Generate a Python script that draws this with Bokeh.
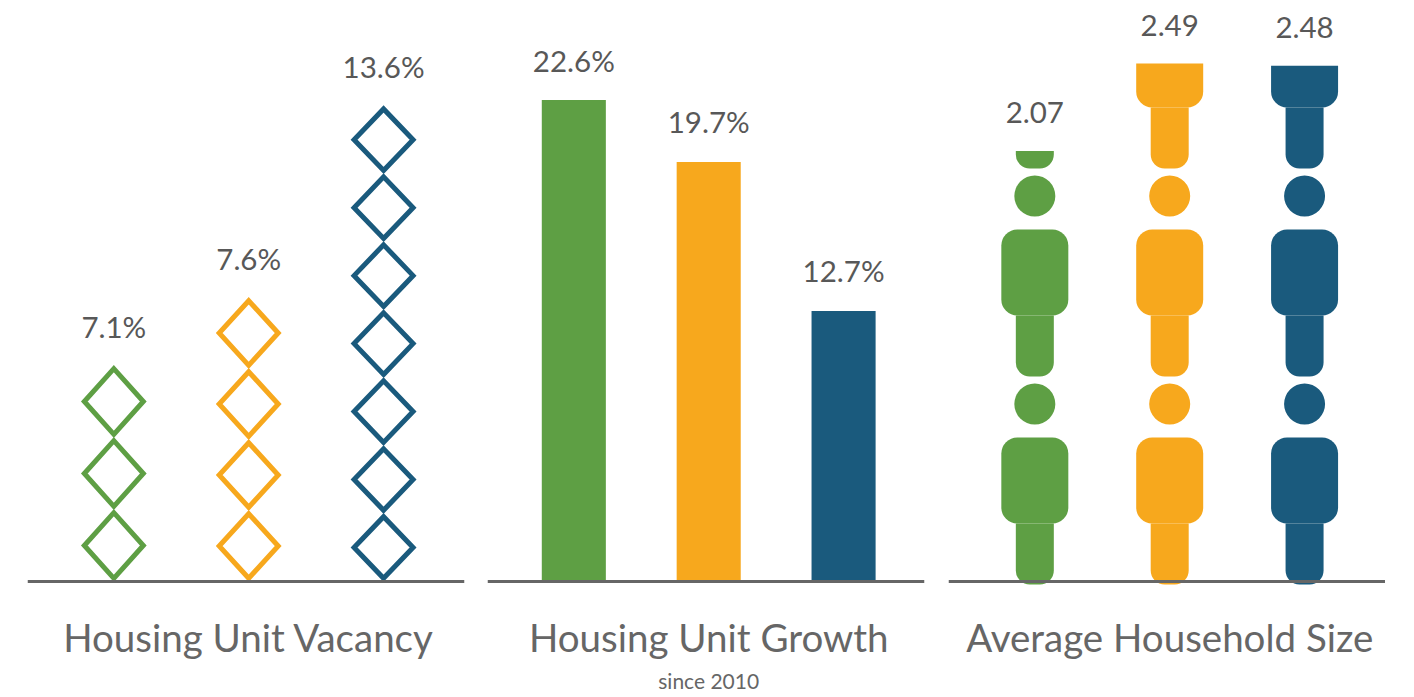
import math
from bokeh.plotting import figure
from bokeh.layouts import row
from bokeh.models import Span
from bokeh.core.properties import value
from bokeh.embed import file_html
from bokeh.resources import INLINE

# ---------------- data ----------------
series = ["Series 1", "Series 2", "Series 3"]
series_colors = ["#5E9F44", "#F7A81D", "#1A5A7D"]

panel_titles = ["Housing Unit Vacancy", "Housing Unit Growth", "Average Household Size"]
growth_subtitle = "since 2010"

vacancy_pct = [7.1, 7.6, 13.6]
vacancy_icons = [3, 4, 7]            # diamonds drawn per series
growth_pct = [22.6, 19.7, 12.7]
household_size = [2.07, 2.49, 2.48]

# ---------------- styling / layout ----------------
FONT = value("Lato")
LABEL_COLOR = "#585858"
TITLE_COLOR = "#666666"
BASE_COLOR = "#666666"
FRAME_W = 437
ABOVE_PX = 573   # pixels above baseline inside frame
BELOW_PX = 114   # pixels below baseline inside frame
FRAME_H = ABOVE_PX + BELOW_PX
TOP_PAD = 8
X_RANGE = (-0.64, 2.60)
xs = list(range(len(series)))

U1 = 72.0    # px per diamond
U2 = 21.3    # px per percent
U3 = 208.0   # px per person
diamond_scale = [1.0, 0.986, 0.944]


def make_fig(unit, bl, br):
    p = figure(frame_width=FRAME_W, frame_height=FRAME_H,
               x_range=X_RANGE, y_range=(-BELOW_PX / unit, ABOVE_PX / unit),
               x_axis_type=None, y_axis_type=None,
               output_backend="svg", toolbar_location=None,
               min_border_left=bl, min_border_right=br,
               min_border_top=TOP_PAD, min_border_bottom=0)
    p.grid.visible = False
    p.outline_line_color = None
    p.background_fill_color = "white"
    p.border_fill_color = "white"
    p.add_layout(Span(location=0, dimension="width", line_color=BASE_COLOR, line_width=3))
    return p


def add_title(p, title, sub=None):
    p.text(x=[1.0], y=[0], text=[title], text_align="center", text_baseline="middle",
           y_offset=55, text_font=FONT, text_font_size="38.5px", text_color=TITLE_COLOR)
    if sub:
        p.text(x=[1.0], y=[0], text=[sub], text_align="center", text_baseline="middle",
               y_offset=99, text_font=FONT, text_font_size="21px", text_color=TITLE_COLOR)


def add_values(p, ys, labels, off):
    p.text(x=xs, y=ys, text=labels, text_align="center", text_baseline="middle",
           y_offset=-off, text_font=FONT, text_font_size="29.5px", text_color=LABEL_COLOR)


xunit = FRAME_W / (X_RANGE[1] - X_RANGE[0])

# ---------- panel 1: vacancy diamonds ----------
p1 = make_fig(U1, 27, 12)
hw = 29.5 / xunit
inset = 3.2 / U1
dx, dy, dc = [], [], []
tops1 = []
for j, (n, s) in enumerate(zip(vacancy_icons, diamond_scale)):
    for k in range(n):
        yc = (k + 0.5) * s
        h = 0.5 * s - inset
        dx.append([j, j + hw, j, j - hw])
        dy.append([yc - h, yc, yc + h, yc])
        dc.append(series_colors[j])
    tops1.append(n * s)
p1.patches(xs=dx, ys=dy, fill_color=None, line_color=dc, line_width=5, line_join="miter")
add_values(p1, tops1, [f"{v}%" for v in vacancy_pct], 39)
add_title(p1, panel_titles[0])

# ---------- panel 2: growth bars ----------
p2 = make_fig(U2, 11, 12)
p2.vbar(x=xs, top=growth_pct, bottom=0, width=0.475, fill_color=series_colors, line_color=None)
add_values(p2, growth_pct, [f"{v}%" for v in growth_pct], 40)
add_title(p2, panel_titles[1], growth_subtitle)

# ---------- panel 3: household size people ----------
p3 = make_fig(U3, 12, 0)
leg_hw = 19.0 / xunit
body_hw = 33.5 / xunit
sink = 3.0 / U3
leg_h = 61.0 / U3
body_h = 86.0 / U3
head_c = 180.5 / U3
head_r = 20.5 / U3

legs = dict(left=[], right=[], bottom=[], top=[], color=[])
bodies = dict(left=[], right=[], bottom=[], top=[], color=[])
bodies_cut = dict(left=[], right=[], bottom=[], top=[], color=[])
heads = dict(x=[], y=[], color=[])
for j, v in enumerate(household_size):
    col = series_colors[j]
    for i in range(int(math.ceil(v))):
        foot = i - sink
        if foot < v:
            legs["left"].append(j - leg_hw); legs["right"].append(j + leg_hw)
            legs["bottom"].append(foot); legs["top"].append(min(foot + leg_h, v))
            legs["color"].append(col)
        b0, b1 = foot + leg_h, foot + leg_h + body_h
        if b0 < v:
            tgt = bodies if b1 <= v else bodies_cut
            tgt["left"].append(j - body_hw); tgt["right"].append(j + body_hw)
            tgt["bottom"].append(b0); tgt["top"].append(min(b1, v))
            tgt["color"].append(col)
        if foot + head_c + head_r <= v:
            heads["x"].append(j); heads["y"].append(foot + head_c); heads["color"].append(col)

p3.quad(left="left", right="right", bottom="bottom", top="top", fill_color="color",
        line_color=None, source=legs, border_radius=(0, 0, 14, 14))
p3.quad(left="left", right="right", bottom="bottom", top="top", fill_color="color",
        line_color=None, source=bodies, border_radius=16)
p3.quad(left="left", right="right", bottom="bottom", top="top", fill_color="color",
        line_color=None, source=bodies_cut, border_radius=(0, 0, 16, 16))
p3.scatter(x="x", y="y", size=41, marker="circle", fill_color="color", line_color=None, source=heads)
add_values(p3, household_size, [f"{v:.2f}" for v in household_size], 38)
add_title(p3, panel_titles[2])

layout = row(p1, p2, p3)
open("out.html", "w").write(file_html(layout, INLINE))
